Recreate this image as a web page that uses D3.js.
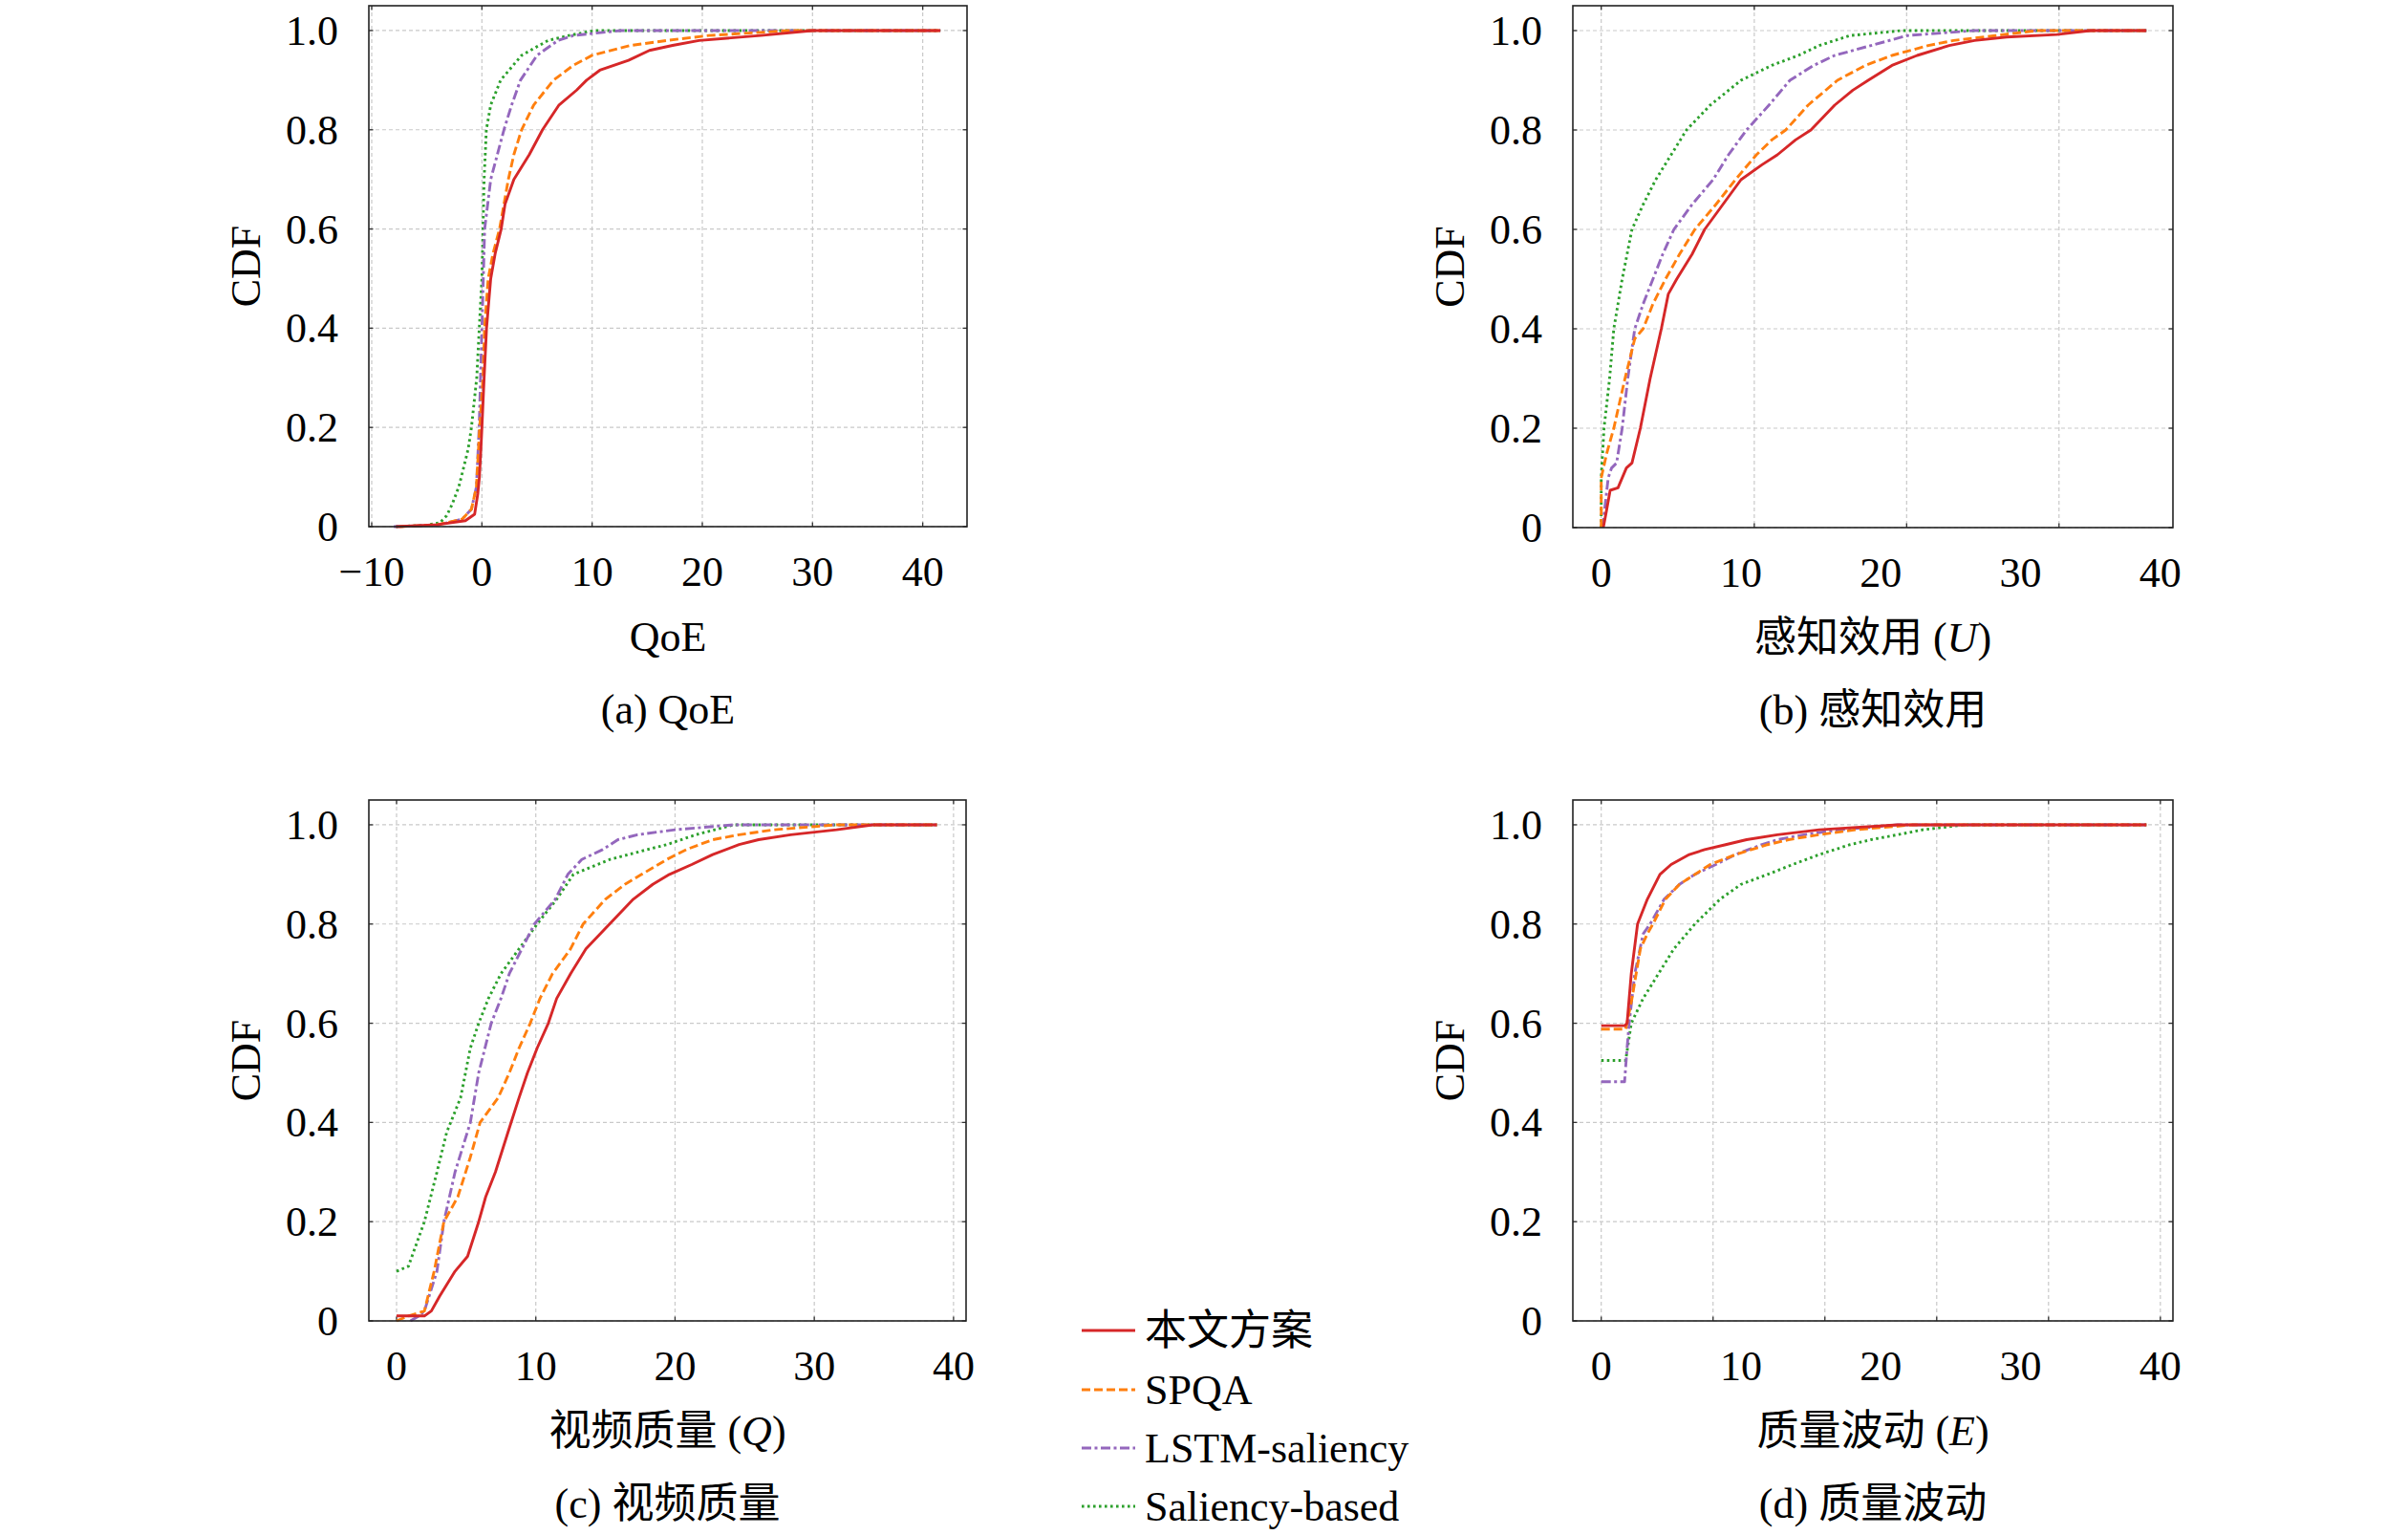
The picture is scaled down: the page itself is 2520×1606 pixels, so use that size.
<!DOCTYPE html>
<html>
<head>
<meta charset="utf-8">
<script src="https://cdn.jsdelivr.net/npm/d3@7"></script>
<style>
  html, body { margin: 0; padding: 0; background: #fff; }
  svg text { font-family: "Liberation Serif", "Noto Sans CJK SC", serif; fill: #000; }
</style>
</head>
<body>
<svg id="chart" width="2520" height="1606"></svg>
<script>
// ---------------- data ----------------
const seriesNames = ["本文方案", "SPQA", "LSTM-saliency", "Saliency-based"];
const yTicks = [0, 0.2, 0.4, 0.6, 0.8, 1.0];
const yTickLabels = ["0", "0.2", "0.4", "0.6", "0.8", "1.0"];

// (a) QoE
const qoeTicks = [-10, 0, 10, 20, 30, 40];
const qoeGrid = [-10, 0, 10, 20, 30, 40];
const qoeRed = [[-7.8,0],[-4,0.004],[-1.5,0.012],[-0.66,0.025],[-0.37,0.067],[-0.23,0.1],[-0.09,0.157],[0,0.2],[0.2,0.3],[0.42,0.4],[0.8,0.5],[1.2,0.55],[1.75,0.6],[2.1,0.65],[2.9,0.7],[4.3,0.75],[5.5,0.8],[7.0,0.85],[8.6,0.88],[9.5,0.9],[10.7,0.92],[13.3,0.94],[15.2,0.96],[17.3,0.97],[19.7,0.98],[25.3,0.99],[30,1.0],[41.6,1.0]];
const qoeSpqa = [[-7.5,0],[-4,0.004],[-1.8,0.015],[-0.95,0.035],[-0.5,0.08],[-0.2,0.2],[0.1,0.3],[0.24,0.4],[0.57,0.5],[1.0,0.55],[1.6,0.6],[2.0,0.65],[2.4,0.7],[2.9,0.75],[3.6,0.8],[4.7,0.85],[6.5,0.9],[8.3,0.93],[10.0,0.95],[13.5,0.97],[16.8,0.98],[20.6,0.99],[28,1.0],[41.6,1.0]];
const qoeLstm = [[-8,0],[-4,0.003],[-1.8,0.015],[-0.95,0.035],[-0.5,0.08],[-0.25,0.2],[0,0.4],[0.25,0.6],[0.8,0.7],[2.0,0.8],[2.7,0.85],[3.5,0.9],[5.0,0.95],[6.9,0.98],[8.3,0.99],[12.6,1.0],[41.6,1.0]];
const qoeSal = [[-7.8,0],[-5,0.003],[-3.8,0.008],[-3.2,0.022],[-2.7,0.045],[-2.1,0.08],[-1.67,0.118],[-1.24,0.157],[-0.95,0.2],[-0.47,0.3],[-0.24,0.4],[0,0.5],[0.1,0.6],[0.2,0.7],[0.4,0.8],[0.8,0.85],[1.7,0.9],[3.6,0.95],[6.0,0.98],[7.9,0.99],[10.2,1.0],[41.6,1.0]];

// (b) 感知效用
const utilTicks = [0, 10, 20, 30, 40];
const utilGrid = [0, 10.95, 21.85, 32.75];
const utilRed = [[0.15,0],[0.35,0.03],[0.64,0.075],[1.2,0.08],[1.8,0.12],[2.2,0.13],[2.8,0.2],[3.5,0.3],[4.3,0.4],[4.8,0.47],[5.4,0.5],[6.5,0.55],[7.4,0.6],[8.7,0.65],[10.0,0.7],[11.5,0.73],[12.6,0.75],[13.9,0.78],[15.0,0.8],[16.7,0.85],[18.0,0.88],[19.1,0.9],[20.8,0.93],[22.6,0.95],[24.9,0.97],[26.7,0.98],[29.0,0.987],[32.6,0.992],[35.0,1.0],[39,1.0]];
const utilSpqa = [[0,0],[0,0.1],[0.4,0.15],[0.9,0.2],[1.7,0.3],[2.4,0.38],[3.0,0.4],[3.7,0.45],[4.6,0.5],[5.6,0.55],[6.7,0.6],[8.2,0.65],[9.6,0.7],[11.1,0.75],[12.2,0.78],[13.2,0.8],[14.8,0.85],[16.9,0.9],[18.9,0.93],[20.8,0.95],[23.4,0.97],[25.2,0.98],[28.2,0.99],[31.2,1.0],[39,1.0]];
const utilLstm = [[0.1,0],[0.3,0.05],[0.5,0.1],[0.74,0.12],[1.1,0.13],[1.5,0.2],[1.9,0.3],[2.4,0.4],[3.0,0.45],[3.7,0.5],[4.4,0.55],[5.2,0.6],[6.5,0.65],[8.0,0.7],[9.1,0.75],[10.4,0.8],[12.0,0.85],[13.5,0.9],[15.2,0.93],[16.7,0.95],[19.3,0.97],[21.9,0.99],[26.7,1.0],[39,1.0]];
const utilSal = [[0,0],[0,0.1],[0.2,0.2],[0.6,0.3],[0.9,0.4],[1.5,0.5],[2.2,0.6],[3.0,0.65],[3.9,0.7],[5.0,0.75],[6.1,0.8],[7.8,0.85],[10.0,0.9],[12.2,0.93],[14.1,0.95],[15.6,0.97],[17.8,0.99],[21.5,1.0],[39,1.0]];

// (c) 视频质量
const qualTicks = [0, 10, 20, 30, 40];
const qualGrid = [0, 10, 20, 30, 40];
const qualRed = [[0,0.01],[2.0,0.01],[2.5,0.02],[3.1,0.05],[4.2,0.1],[5.1,0.13],[5.9,0.2],[6.4,0.25],[7.1,0.3],[8.0,0.38],[8.8,0.45],[9.4,0.5],[10.1,0.55],[10.9,0.6],[11.5,0.65],[12.5,0.7],[13.6,0.75],[15.3,0.8],[17.0,0.85],[18.4,0.88],[19.6,0.9],[21.2,0.92],[22.7,0.94],[24.6,0.96],[26.0,0.97],[28.3,0.98],[31.6,0.99],[34.2,1.0],[38.8,1.0]];
const qualSpqa = [[0,0],[0.85,0.01],[2.0,0.02],[2.7,0.1],[3.4,0.2],[4.4,0.25],[5.3,0.33],[6.0,0.4],[7.3,0.45],[8.1,0.5],[8.8,0.55],[9.6,0.6],[10.3,0.65],[11.2,0.7],[12.5,0.75],[13.4,0.8],[15.0,0.85],[16.4,0.88],[17.6,0.9],[19.4,0.93],[20.8,0.95],[22.7,0.97],[24.6,0.98],[27.1,0.99],[31.6,1.0],[38.8,1.0]];
const qualLstm = [[1.0,0],[1.6,0.01],[2.0,0.02],[2.9,0.1],[3.4,0.2],[4.2,0.3],[5.3,0.4],[5.9,0.5],[6.8,0.6],[7.5,0.65],[8.1,0.7],[9.0,0.75],[9.9,0.8],[11.4,0.85],[12.3,0.9],[13.3,0.93],[14.8,0.95],[15.9,0.97],[17.3,0.98],[20.0,0.99],[24.2,1.0],[38.8,1.0]];
const qualSal = [[0,0.1],[0.85,0.11],[2.0,0.2],[2.9,0.3],[3.6,0.38],[4.6,0.45],[5.3,0.55],[5.9,0.6],[6.6,0.65],[7.5,0.7],[8.8,0.75],[10.1,0.8],[11.5,0.85],[12.7,0.9],[15.3,0.93],[18.0,0.95],[19.4,0.96],[21.5,0.98],[24.2,1.0],[38.8,1.0]];

// (d) 质量波动
const fluctTicks = [0, 10, 20, 30, 40];
const fluctGrid = [0, 8, 16, 24, 32, 40];
const fluctRed = [[0,0.595],[1.67,0.595],[1.85,0.6],[2.15,0.7],[2.6,0.8],[3.3,0.85],[4.2,0.9],[5.0,0.92],[6.3,0.94],[7.4,0.95],[8.9,0.96],[10.4,0.97],[12.6,0.98],[15.6,0.99],[21.2,1.0],[39,1.0]];
const fluctSpqa = [[0,0.588],[1.75,0.588],[2.2,0.65],[2.8,0.75],[3.3,0.78],[3.7,0.8],[4.6,0.85],[5.6,0.88],[6.7,0.9],[7.8,0.92],[9.6,0.94],[11.9,0.96],[13.4,0.97],[15.6,0.98],[18.2,0.99],[22.3,1.0],[39,1.0]];
const fluctLstm = [[0,0.482],[1.67,0.482],[1.85,0.55],[2.0,0.6],[2.4,0.7],[3.0,0.78],[3.5,0.8],[4.5,0.85],[5.6,0.88],[6.7,0.9],[8.2,0.92],[9.6,0.94],[11.5,0.96],[12.6,0.97],[14.5,0.98],[17.1,0.99],[21.2,1.0],[39,1.0]];
const fluctSal = [[0,0.525],[1.75,0.525],[2.15,0.6],[3.0,0.65],[4.1,0.7],[5.2,0.75],[6.7,0.8],[8.5,0.85],[10.0,0.88],[11.9,0.9],[13.7,0.92],[15.6,0.94],[17.8,0.96],[19.3,0.97],[21.2,0.98],[23.0,0.99],[26.0,1.0],[39,1.0]];

// ---------------- styles ----------------
const colors = ["#d62728", "#ff7f0e", "#9467bd", "#2ca02c"];
const dashes = [null, "9,4", "10,3.5,3,3.5", "2.6,3.4"];
const FS = 44;

const panels = [
  { left: 386, top: 6, w: 626, h: 545, xd: [-10.26, 44.02], ticks: qoeTicks, grid: qoeGrid,
    series: [qoeRed, qoeSpqa, qoeLstm, qoeSal], xlabel: [["QoE", false]], caption: "(a) QoE" },
  { left: 1646, top: 6, w: 628, h: 546, xd: [-2.03, 40.9], ticks: utilTicks, grid: utilGrid,
    series: [utilRed, utilSpqa, utilLstm, utilSal], xlabel: [["感知效用 (", false], ["U", true], [")", false]], caption: "(b) 感知效用" },
  { left: 386, top: 837, w: 625, h: 545, xd: [-1.99, 40.9], ticks: qualTicks, grid: qualGrid,
    series: [qualRed, qualSpqa, qualLstm, qualSal], xlabel: [["视频质量 (", false], ["Q", true], [")", false]], caption: "(c) 视频质量" },
  { left: 1646, top: 837, w: 628, h: 545, xd: [-2.03, 40.9], ticks: fluctTicks, grid: fluctGrid,
    series: [fluctRed, fluctSpqa, fluctLstm, fluctSal], xlabel: [["质量波动 (", false], ["E", true], [")", false]], caption: "(d) 质量波动" }
];

const svg = d3.select("#chart");

panels.forEach(p => {
  const x = d3.scaleLinear().domain(p.xd).range([p.left, p.left + p.w]);
  const y = d3.scaleLinear().domain([0, 1.05]).range([p.top + p.h, p.top]);
  const g = svg.append("g");
  const bottom = p.top + p.h;

  // grid
  g.selectAll(".gx").data(p.grid).join("line")
    .attr("x1", d => x(d)).attr("x2", d => x(d))
    .attr("y1", p.top).attr("y2", bottom)
    .attr("stroke", "#c9c9c9").attr("stroke-width", 1.2).attr("stroke-dasharray", "4,3");
  g.selectAll(".gy").data(yTicks).join("line")
    .attr("x1", p.left).attr("x2", p.left + p.w)
    .attr("y1", d => y(d)).attr("y2", d => y(d))
    .attr("stroke", "#c9c9c9").attr("stroke-width", 1.2).attr("stroke-dasharray", "4,3");

  // inward tick marks
  const tl = 4.5;
  p.grid.forEach(d => {
    g.append("line").attr("x1", x(d)).attr("x2", x(d)).attr("y1", bottom).attr("y2", bottom - tl)
      .attr("stroke", "#333").attr("stroke-width", 1.3);
    g.append("line").attr("x1", x(d)).attr("x2", x(d)).attr("y1", p.top).attr("y2", p.top + tl)
      .attr("stroke", "#333").attr("stroke-width", 1.3);
  });
  yTicks.forEach(d => {
    g.append("line").attr("x1", p.left).attr("x2", p.left + tl).attr("y1", y(d)).attr("y2", y(d))
      .attr("stroke", "#333").attr("stroke-width", 1.3);
    g.append("line").attr("x1", p.left + p.w).attr("x2", p.left + p.w - tl).attr("y1", y(d)).attr("y2", y(d))
      .attr("stroke", "#333").attr("stroke-width", 1.3);
  });

  // series
  const line = d3.line().x(d => x(d[0])).y(d => y(d[1]));
  const order = [3, 2, 1, 0];
  order.forEach(i => {
    g.append("path").datum(p.series[i])
      .attr("d", line)
      .attr("fill", "none")
      .attr("stroke", colors[i])
      .attr("stroke-width", 2.9)
      .attr("stroke-linejoin", "round")
      .attr("stroke-dasharray", dashes[i]);
  });

  // frame
  g.append("rect").attr("x", p.left).attr("y", p.top).attr("width", p.w).attr("height", p.h)
    .attr("fill", "none").attr("stroke", "#222").attr("stroke-width", 1.6);

  // x tick labels
  g.selectAll(".xt").data(p.ticks).join("text")
    .attr("x", d => x(d)).attr("y", bottom + 62)
    .attr("text-anchor", "middle").attr("font-size", FS)
    .text(d => d < 0 ? "\u2212" + Math.abs(d) : String(d));

  // y tick labels
  g.selectAll(".yt").data(yTicks).join("text")
    .attr("x", p.left - 32).attr("y", d => y(d) + 15)
    .attr("text-anchor", "end").attr("font-size", FS)
    .text((d, i) => yTickLabels[i]);

  // y label
  const cy = p.top + p.h / 2;
  g.append("text")
    .attr("transform", `translate(${p.left - 114},${cy}) rotate(-90)`)
    .attr("text-anchor", "middle").attr("font-size", FS)
    .text("CDF");

  // x label
  const cx = p.left + p.w / 2;
  const xl = g.append("text").attr("x", cx).attr("y", bottom + 130)
    .attr("text-anchor", "middle").attr("font-size", FS);
  p.xlabel.forEach(([t, it]) => {
    xl.append("tspan").attr("font-style", it ? "italic" : "normal").text(t);
  });

  // caption
  g.append("text").attr("x", cx).attr("y", bottom + 206)
    .attr("text-anchor", "middle").attr("font-size", FS)
    .text(p.caption);
});

// legend
const legendRows = [1392, 1454, 1515, 1576];
const lg = svg.append("g");
seriesNames.forEach((name, i) => {
  lg.append("line").attr("x1", 1132).attr("x2", 1188)
    .attr("y1", legendRows[i]).attr("y2", legendRows[i])
    .attr("stroke", colors[i]).attr("stroke-width", 3)
    .attr("stroke-dasharray", dashes[i]);
  lg.append("text").attr("x", 1198).attr("y", legendRows[i] + 15)
    .attr("font-size", FS).text(name);
});
</script>
</body>
</html>
